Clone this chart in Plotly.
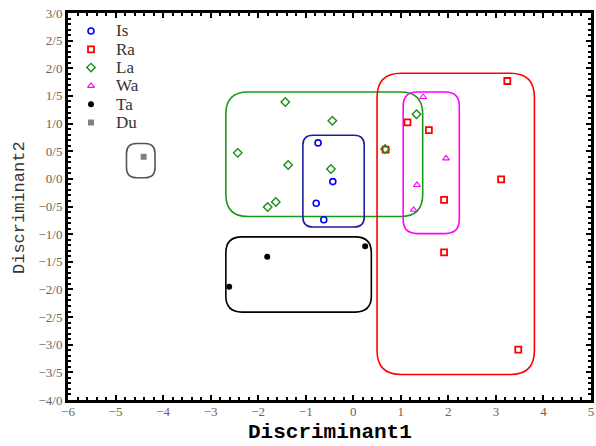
import plotly.graph_objects as go

# ---------------- data ----------------
is_x = [-0.74, -0.43, -0.78, -0.62]
is_y = [0.65, -0.05, -0.44, -0.74]

ra_x = [3.24, 1.14, 1.59, 0.68, 3.11, 1.91, 1.91, 3.47]
ra_y = [1.77, 1.02, 0.88, 0.53, -0.01, -0.38, -1.33, -3.09]

la_x = [-1.43, -0.44, -2.43, -1.37, -0.47, -1.63, -1.80, 0.67, 1.33]
la_y = [1.39, 1.05, 0.47, 0.25, 0.18, -0.42, -0.51, 0.54, 1.17]

wa_x = [1.47, 1.95, 1.34, 1.27]
wa_y = [1.48, 0.37, -0.11, -0.56]

ta_x = [-1.81, -2.61, 0.25]
ta_y = [-1.41, -1.95, -1.22]

du_x = [-4.41]
du_y = [0.40]

# group enclosure boxes: (x0, x1, y0, y1)
box_du = (-4.77, -4.17, 0.02, 0.64)
box_la = (-2.68, 1.46, -0.68, 1.57)
box_is = (-1.06, 0.23, -0.87, 0.79)
box_ra = (0.50, 3.81, -3.54, 1.91)
box_wa = (1.05, 2.23, -0.99, 1.57)
box_ta = (-2.68, 0.38, -2.41, -1.05)

x_tickvals = [-6, -5, -4, -3, -2, -1, 0, 1, 2, 3, 4, 5]
x_ticktext = ["\u22126", "\u22125", "\u22124", "\u22123", "\u22122", "\u22121",
              "0", "1", "2", "3", "4", "5"]
y_tickvals = [3.0, 2.5, 2.0, 1.5, 1.0, 0.5, 0.0, -0.5, -1.0, -1.5, -2.0,
              -2.5, -3.0, -3.5, -4.0]
y_ticktext = ["3/0", "2/5", "2/0", "1/5", "1/0", "0/5", "0/0", "\u22120/5",
              "\u22121/0", "\u22121/5", "\u22122/0", "\u22122/5", "\u22123/0",
              "\u22123/5", "\u22124/0"]

# ---------------- layout geometry ----------------
W, H = 596, 446
ML, MR, MT, MB = 68, 5, 13, 46
XR = (-6, 5)
YR = (-4, 3)
PW, PH = W - ML - MR, H - MT - MB
sx = PW / (XR[1] - XR[0])
sy = PH / (YR[1] - YR[0])


def rounded_path(box, r):
    x0, x1, y0, y1 = box
    rx, ry = r / sx, r / sy
    return (f"M {x0+rx},{y1} L {x1-rx},{y1} Q {x1},{y1} {x1},{y1-ry} "
            f"L {x1},{y0+ry} Q {x1},{y0} {x1-rx},{y0} "
            f"L {x0+rx},{y0} Q {x0},{y0} {x0},{y0+ry} "
            f"L {x0},{y1-ry} Q {x0},{y1} {x0+rx},{y1} Z")


series = [
    ("Is", is_x, is_y, dict(symbol="circle-open", size=6, color="#0000ff",
                            line=dict(width=1.6, color="#0000ff"))),
    ("Ra", ra_x, ra_y, dict(symbol="square-open", size=6, color="#ff0000",
                            line=dict(width=1.8, color="#ff0000"))),
    ("La", la_x, la_y, dict(symbol="diamond-open", size=6.5, color="#1a8f1a",
                            line=dict(width=1.4, color="#1a8f1a"))),
    ("Wa", wa_x, wa_y, dict(symbol="triangle-up-open", size=6, color="#ff00ff",
                            line=dict(width=1.1, color="#ff00ff"))),
    ("Ta", ta_x, ta_y, dict(symbol="circle", size=6, color="#000000")),
    ("Du", du_x, du_y, dict(symbol="square", size=6, color="#808080")),
]

fig = go.Figure()

boxes = [(box_du, 10, "#555555"), (box_la, 22, "#1a9a1a"), (box_is, 10, "#1c1c9c"),
         (box_ra, 24, "#ff0000"), (box_wa, 14, "#ff00ff"), (box_ta, 16, "#000000")]
for b, r, c in boxes:
    fig.add_shape(type="path", path=rounded_path(b, r), xref="x", yref="y",
                  line=dict(color=c, width=1.6), layer="below")

for name, xs, ys, mk in series:
    fig.add_trace(go.Scatter(x=xs, y=ys, mode="markers", name=name, marker=mk,
                             showlegend=False))

# ---- hand-drawn legend (overlay axes in plot fractions) ----
LEG_MARK_PX = 91 - ML
LEG_TEXT_PX = 114 - ML
LEG_TOP_PX = 31 - MT
LEG_DY_PX = 18.3
annotations = []
for i, (name, xs, ys, mk) in enumerate(series):
    fy = 1 - (LEG_TOP_PX + i * LEG_DY_PX) / PH
    fig.add_trace(go.Scatter(x=[LEG_MARK_PX / PW], y=[fy], mode="markers",
                             marker=mk, xaxis="x2", yaxis="y2",
                             showlegend=False, hoverinfo="skip"))
    annotations.append(dict(x=LEG_TEXT_PX / PW, y=fy, xref="paper", yref="paper",
                            text=name, showarrow=False, xanchor="left",
                            yanchor="middle",
                            font=dict(family="Liberation Serif, serif", size=17,
                                      color="#333333")))

# axis titles
annotations.append(dict(x=0.5, y=-(432 - (H - MB)) / PH, xref="paper", yref="paper",
                        text="Discriminant1", showarrow=False, xanchor="center",
                        yanchor="middle", borderpad=0,
                        font=dict(family="Liberation Mono, monospace", size=21,
                                  color="black", weight="bold")))
annotations.append(dict(x=-(ML - 19) / PW, y=1 - (208 - MT) / PH, xref="paper",
                        yref="paper", text="Discriminant2", showarrow=False,
                        textangle=-90, xanchor="center", yanchor="middle",
                        font=dict(family="Liberation Mono, monospace", size=17,
                                  color="#333333")))

tickfont = dict(family="Liberation Serif, serif", size=13, color="#6e6458")

fig.update_layout(
    width=W, height=H,
    margin=dict(l=ML, r=MR, t=MT, b=MB, autoexpand=False),
    paper_bgcolor="white", plot_bgcolor="white",
    showlegend=False,
    annotations=annotations,
    xaxis=dict(range=list(XR), showgrid=False, zeroline=False, automargin=False,
               showline=True, linewidth=3, linecolor="black", mirror="allticks",
               ticks="inside", ticklen=5, tickwidth=2, tickcolor="black",
               tickvals=x_tickvals, ticktext=x_ticktext, tickfont=tickfont,
               ticklabelstandoff=-3,
               minor=dict(dtick=0.2, ticks="inside", ticklen=3, tickwidth=2,
                          tickcolor="black", showgrid=False)),
    yaxis=dict(range=list(YR), showgrid=False, zeroline=False, automargin=False,
               showline=True, linewidth=3, linecolor="black", mirror="allticks",
               ticks="inside", ticklen=5, tickwidth=2, tickcolor="black",
               tickvals=y_tickvals, ticktext=y_ticktext, tickfont=tickfont,
               minor=dict(dtick=0.1, ticks="inside", ticklen=3, tickwidth=2,
                          tickcolor="black", showgrid=False)),
    xaxis2=dict(range=[0, 1], overlaying="x", visible=False, fixedrange=True),
    yaxis2=dict(range=[0, 1], overlaying="y", visible=False, fixedrange=True),
)

fig.write_html("out.html", config={"displayModeBar": False},
               post_script="document.body.style.margin='0';"
                           "document.body.style.padding='0';")
